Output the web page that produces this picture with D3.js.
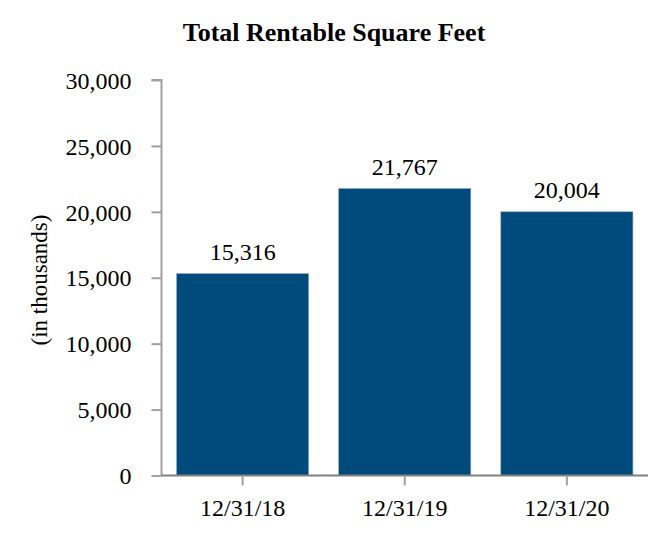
<!DOCTYPE html>
<html>
<head>
<meta charset="utf-8">
<script src="https://cdn.jsdelivr.net/npm/d3@7"></script>
<style>
body { margin: 0; background: #fff; }
svg text { font-family: "Liberation Serif", serif; fill: #000; }
</style>
</head>
<body>
<svg id="chart"></svg>
<script>
// data
const periods = ['12/31/18', '12/31/19', '12/31/20'];
const sqFeet = [15316, 21767, 20004];
const yTicks = [0, 5000, 10000, 15000, 20000, 25000, 30000];

const width = 668;
const height = 538;
const svg = d3.select('#chart')
  .attr('width', width)
  .attr('height', height)
  .attr('font-family', '"Liberation Serif", serif');

const plotLeft = 161.5, plotRight = 648, plotTop = 80, plotBottom = 475.5;

const x = d3.scaleBand()
  .domain(periods)
  .range([plotLeft, plotRight])
  .paddingInner(0.185)
  .paddingOuter(0.093);

const y = d3.scaleLinear()
  .domain([0, 30000])
  .range([plotBottom, plotTop]);

// title
svg.append('text')
  .attr('x', 334)
  .attr('y', 41)
  .attr('text-anchor', 'middle')
  .style('font-size', '26px')
  .style('font-weight', 'bold')
  .text('Total Rentable Square Feet');

// y label
svg.append('text')
  .attr('transform', 'translate(47,280) rotate(-90)')
  .attr('text-anchor', 'middle')
  .style('font-size', '23px')
  .text('(in thousands)');

// bars
svg.selectAll('rect.bar')
  .data(sqFeet)
  .enter()
  .append('rect')
  .attr('class', 'bar')
  .attr('x', (d, i) => x(periods[i]))
  .attr('y', d => y(d))
  .attr('width', x.bandwidth())
  .attr('height', d => y(0) - y(d))
  .attr('fill', '#004a7c')
  .attr('stroke', '#8fa9c4')
  .attr('stroke-width', 0.6);

// value labels
svg.selectAll('text.val')
  .data(sqFeet)
  .enter()
  .append('text')
  .attr('class', 'val')
  .attr('x', (d, i) => x(periods[i]) + x.bandwidth() / 2)
  .attr('y', d => y(d) - 14)
  .attr('text-anchor', 'middle')
  .style('font-size', '24px')
  .text(d => d3.format(',')(d));

// y axis
const yAxis = svg.append('g')
  .attr('transform', `translate(${plotLeft},0)`)
  .call(d3.axisLeft(y).tickValues(yTicks).tickFormat(d3.format(',')).tickSize(10).tickPadding(20));
yAxis.attr('font-family', null).attr('font-size', null);
yAxis.select('.domain').attr('stroke', '#a0a0a0').attr('stroke-width', 2).attr('d', `M-10,${plotTop}H0V${plotBottom}`);
yAxis.selectAll('.tick line').attr('stroke', '#a0a0a0').attr('stroke-width', 2);
yAxis.selectAll('.tick text')
  .style('font-size', '24px')
  .attr('dy', '0.34em');

// x axis
const xAxis = svg.append('g')
  .attr('transform', `translate(0,${plotBottom})`)
  .call(d3.axisBottom(x).tickSize(10).tickPadding(13));
xAxis.attr('font-family', null).attr('font-size', null);
xAxis.select('.domain').attr('stroke', '#808080').attr('stroke-width', 2).attr('d', `M${plotLeft},0H${plotRight}`);
xAxis.selectAll('.tick line').attr('stroke', '#a0a0a0').attr('stroke-width', 2);
xAxis.selectAll('.tick text')
  .style('font-size', '24px');
</script>
</body>
</html>
